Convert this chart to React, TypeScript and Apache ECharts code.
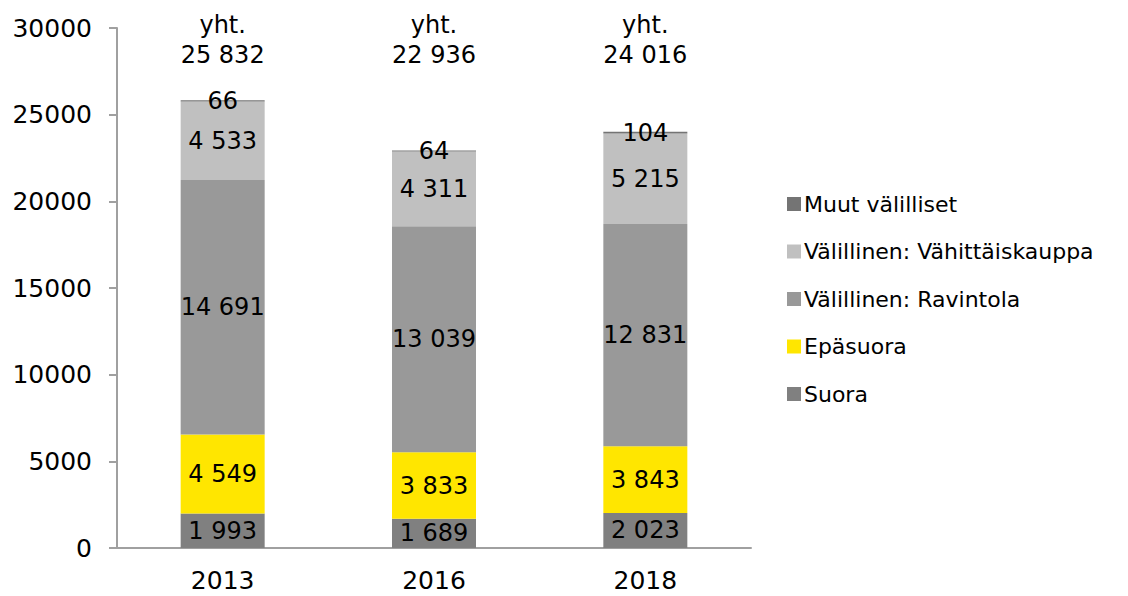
import React, { useEffect, useRef } from "react";
import * as echarts from "echarts";

const categories = ["2013", "2016", "2018"];
const suora = [1993, 1689, 2023];
const epasuora = [4549, 3833, 3843];
const ravintola = [14691, 13039, 12831];
const vahittais = [4533, 4311, 5215];
const muut = [66, 64, 104];
const totals = [25832, 22936, 24016];
const yTicks = [0, 5000, 10000, 15000, 20000, 25000, 30000];

const FONT = "DejaVu Sans";
const fmt = (v: number) => String(v).replace(/\B(?=(\d{3})+(?!\d))/g, " ");

export default function App() {
  const ref = useRef<HTMLDivElement>(null);
  useEffect(() => {
    if (!ref.current) return;
    const chart = echarts.init(ref.current, undefined, { renderer: "svg" });
    const yMax = yTicks[yTicks.length - 1];
    const lbl = {
      show: true,
      position: "inside" as const,
      color: "#000",
      fontFamily: FONT,
      fontSize: 24,
      formatter: (p: any) => fmt(p.value),
    };
    const mk = (name: string, data: number[], color: string) => ({
      name,
      type: "bar",
      stack: "total",
      data,
      barWidth: 84,
      itemStyle: { color },
      label: lbl,
    });
    chart.setOption({
      animation: false,
      textStyle: { fontFamily: FONT },
      grid: { left: 117, right: 377, top: 28, bottom: 48 },
      legend: {
        data: ["Muut välilliset", "Välillinen: Vähittäiskauppa", "Välillinen: Ravintola", "Epäsuora", "Suora"],
        orient: "vertical",
        left: 782,
        top: 188,
        itemWidth: 14,
        itemHeight: 14,
        itemGap: 25.5,
        icon: "rect",
        textStyle: { fontFamily: FONT, fontSize: 22, color: "#000", padding: [0, 0, 0, -2] },
      },
      xAxis: {
        type: "category",
        data: categories,
        axisLine: { lineStyle: { color: "#a0a0a0", width: 2 } },
        axisTick: { length: 8, lineStyle: { color: "#a0a0a0", width: 2 } },
        axisLabel: { fontFamily: FONT, fontSize: 25, color: "#000", margin: 20 },
      },
      yAxis: {
        type: "value",
        min: yTicks[0],
        max: yMax,
        interval: 5000,
        splitLine: { show: false },
        axisLine: { show: true, lineStyle: { color: "#a0a0a0", width: 2 } },
        axisTick: { show: true, length: 8, lineStyle: { color: "#a0a0a0", width: 2 } },
        axisLabel: {
          fontFamily: FONT,
          fontSize: 25,
          color: "#000",
          margin: 25,
          formatter: (v: number) => String(v),
        },
      },
      series: [
        mk("Suora", suora, "#808080"),
        mk("Epäsuora", epasuora, "#ffe600"),
        mk("Välillinen: Ravintola", ravintola, "#999999"),
        mk("Välillinen: Vähittäiskauppa", vahittais, "#c0c0c0"),
        mk("Muut välilliset", muut, "#747474"),
        {
          name: "yht.",
          type: "scatter",
          data: totals.map((t) => ({ value: yMax, total: t })),
          symbolSize: 1,
          clip: false,
          itemStyle: { color: "rgba(0,0,0,0)" },
          silent: true,
          label: {
            show: true,
            position: "inside",
            offset: [0, 12],
            color: "#000",
            opacity: 1,
            textBorderWidth: 0,
            fontFamily: FONT,
            fontSize: 24,
            lineHeight: 30,
            formatter: (p: any) => "yht.\n" + fmt(p.data.total),
          },
        },
      ],
    });
    return () => chart.dispose();
  }, []);
  return <div ref={ref} style={{ width: 1128, height: 596, position: "absolute", left: 0, top: 0 }} />;
}
